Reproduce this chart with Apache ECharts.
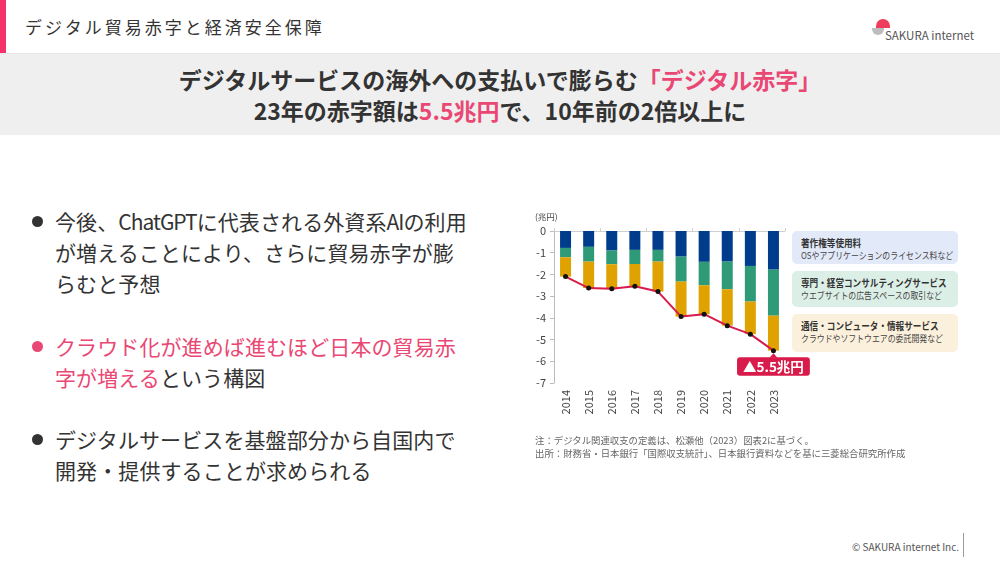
<!DOCTYPE html>
<html><head><meta charset="utf-8">
<script src="https://cdn.jsdelivr.net/npm/echarts@6.0.0/dist/echarts.min.js"></script>
<style>
*{margin:0;padding:0;box-sizing:border-box}
body{width:1000px;height:563px;overflow:hidden;background:#fff;font-family:"Noto Sans CJK JP","Noto Sans",sans-serif;color:#333;position:relative}
.abs{position:absolute}
#pinkbar{left:0;top:0;width:6px;height:53px;background:#f5336b}
#hdr{left:25px;top:14px;font-size:17px;letter-spacing:3px;line-height:26px;color:#333;white-space:nowrap}
#hline{left:0;top:53px;width:1000px;height:1px;background:#e6e6e6}
#band{left:0;top:54px;width:1000px;height:81px;background:#efefef}
.hl{left:0;width:1000px;height:29px;text-align:center;font-size:23px;font-weight:bold;line-height:29px;white-space:nowrap;color:#333}
.pk{color:#ea4874}
.bul{left:55px;font-size:21px;line-height:31px;white-space:nowrap;color:#333;letter-spacing:0.1px}
.lat{letter-spacing:-1px}
.dot{width:11px;height:11px;border-radius:50%;left:32px}
#chart{left:500px;top:195px;width:320px;height:240px}
.lg{left:792px;width:166px;border-radius:5px;padding:5px 0 0 9px;white-space:nowrap}
.lg b{display:block;font-size:10px;line-height:13px;color:#333;transform:scaleX(0.86);transform-origin:0 50%}
.lg span{display:block;font-size:9.5px;line-height:13px;color:#444;transform:scaleX(0.83);transform-origin:0 50%}
.fn{left:535px;font-size:9.4px;line-height:13px;color:#666;white-space:nowrap}
#copy{left:852px;top:539px;font-size:10px;color:#555;white-space:nowrap}
#vl{left:963px;top:533px;width:1px;height:24px;background:#999}
</style></head><body>
<div class="abs" id="pinkbar"></div>
<div class="abs" id="hdr">デジタル貿易赤字と経済安全保障</div>
<div class="abs" style="left:876px;top:19px;width:14px;height:9px;border-radius:7px 7px 0 0;background:#ef3e5c"></div>
<div class="abs" style="left:872px;top:28px;width:12px;height:7px;border-radius:0 0 8px 8px;background:#bdbdbd"></div>
<div class="abs" style="left:885px;top:27px;font-size:11.5px;color:#555;white-space:nowrap">SAKURA internet</div>
<div class="abs" id="hline"></div>
<div class="abs" id="band"></div>
<div class="abs hl" style="top:65px">デジタルサービスの海外への支払いで膨らむ<span class="pk">「デジタル赤字」</span></div>
<div class="abs hl" style="top:96px">23年の赤字額は<span class="pk">5.5兆円</span>で、10年前の2倍以上に</div>

<div class="abs dot" style="top:216px;background:#333"></div>
<div class="abs bul" style="top:206px">今後、<span class="lat">ChatGPT</span>に代表される外資系<span class="lat">AI</span>の利用<br>が増えることにより、さらに貿易赤字が膨<br>らむと予想</div>
<div class="abs dot" style="top:341px;background:#ea4874"></div>
<div class="abs bul" style="top:331px"><span class="pk">クラウド化が進めば進むほど日本の貿易赤<br>字が増える</span>という構図</div>
<div class="abs dot" style="top:434px;background:#333"></div>
<div class="abs bul" style="top:424px">デジタルサービスを基盤部分から自国内で<br>開発・提供することが求められる</div>

<div class="abs" id="chart"></div>
<div class="abs lg" style="top:231px;height:33px;background:#e2e9f8"><b>著作権等使用料</b><span>OSやアプリケーションのライセンス料など</span></div>
<div class="abs lg" style="top:271px;height:36px;background:#dcefe7"><b>専門・経営コンサルティングサービス</b><span>ウエブサイトの広告スペースの取引など</span></div>
<div class="abs lg" style="top:314px;height:38px;background:#fbf0dc"><b>通信・コンピュータ・情報サービス</b><span>クラウドやソフトウエアの委託開発など</span></div>

<div class="abs fn" style="top:434px">注：デジタル関連収支の定義は、松瀬他（2023）図表2に基づく。</div>
<div class="abs fn" style="top:447px">出所：財務省・日本銀行「国際収支統計」、日本銀行資料などを基に三菱総合研究所作成</div>
<div class="abs" id="copy">© SAKURA internet Inc.</div>
<div class="abs" id="vl"></div>

<script>
const years = ['2014','2015','2016','2017','2018','2019','2020','2021','2022','2023'];
const royalties = [-0.78,-0.73,-0.90,-0.87,-0.87,-1.18,-1.42,-1.41,-1.61,-1.78];
const consulting = [-0.43,-0.68,-0.63,-0.65,-0.54,-1.15,-1.08,-1.27,-1.64,-2.12];
const computer = [-0.89,-1.22,-1.13,-1.02,-1.38,-1.61,-1.33,-1.68,-1.50,-1.61];
const totals = [-2.10,-2.63,-2.66,-2.54,-2.79,-3.94,-3.83,-4.36,-4.75,-5.51];
const seriesNames = ['著作権等使用料','専門・経営コンサルティングサービス','通信・コンピュータ・情報サービス','合計'];
const yMin = -7, yMax = 0, yStep = 1;
const unitLabel = '(兆円)';
const calloutText = '▲5.5兆円';

const colors = ['#003c8c','#2f9a78','#dfa200'];
const lineColor = '#d81b4b';
const chart = echarts.init(document.getElementById('chart'), null, {renderer:'canvas'});
const font = '"Noto Sans CJK JP","Noto Sans",sans-serif';
const lineData = totals.map((v,i)=> i===totals.length-1 ? {
  value:v,
  label:{show:true,position:'bottom',distance:4,formatter:calloutText,
    backgroundColor:lineColor,color:'#fff',fontSize:13.5,fontWeight:'bold',fontFamily:font,
    padding:[3,6,2,6],borderRadius:3}
} : v);
const barBase = {type:'bar',stack:'d',barWidth:11,xAxisIndex:0,yAxisIndex:0};
chart.setOption({
  animation:false,
  textStyle:{fontFamily:font},
  grid:{left:54,top:36,width:231,height:152,containLabel:false},
  xAxis:[{
    type:'category',data:years,position:'bottom',
    axisLine:{show:false,onZero:false},axisTick:{show:false},
    axisLabel:{rotate:90,margin:7,fontSize:11,color:'#444',fontFamily:font}
  },{
    type:'category',data:years,position:'top',
    axisLine:{show:true,onZero:false,lineStyle:{color:'#cfcfcf'}},
    axisTick:{show:true,length:3,lineStyle:{color:'#cfcfcf'}},
    axisLabel:{show:false}
  }],
  yAxis:{
    type:'value',min:yMin,max:yMax,interval:yStep,
    axisLine:{show:true,lineStyle:{color:'#bbb'}},
    axisTick:{show:true,length:4,lineStyle:{color:'#bbb'}},
    splitLine:{show:false},
    axisLabel:{margin:8,fontSize:11,color:'#444',fontFamily:font}
  },
  series:[
    Object.assign({},barBase,{name:seriesNames[0],data:royalties,itemStyle:{color:colors[0]}}),
    Object.assign({},barBase,{name:seriesNames[1],data:consulting,itemStyle:{color:colors[1]}}),
    Object.assign({},barBase,{name:seriesNames[2],data:computer,itemStyle:{color:colors[2]}}),
    {type:'line',name:seriesNames[3],data:lineData,z:5,symbol:'circle',symbolSize:5,
     lineStyle:{color:lineColor,width:2},itemStyle:{color:'#111',borderWidth:0}}
  ]
});
const last = years.length-1;
const p = chart.convertToPixel({xAxisIndex:0,yAxisIndex:0},[years[last],totals[last]]);
chart.setOption({graphic:[
  {type:'text',left:35,top:18,style:{text:unitLabel,fontSize:8.5,fill:'#444',fontFamily:font}},
  {type:'polygon',z:10,shape:{points:[[p[0]-4,p[1]+7],[p[0]+4,p[1]+7],[p[0],p[1]+2.5]]},style:{fill:lineColor}}
]});
</script>
</body></html>
